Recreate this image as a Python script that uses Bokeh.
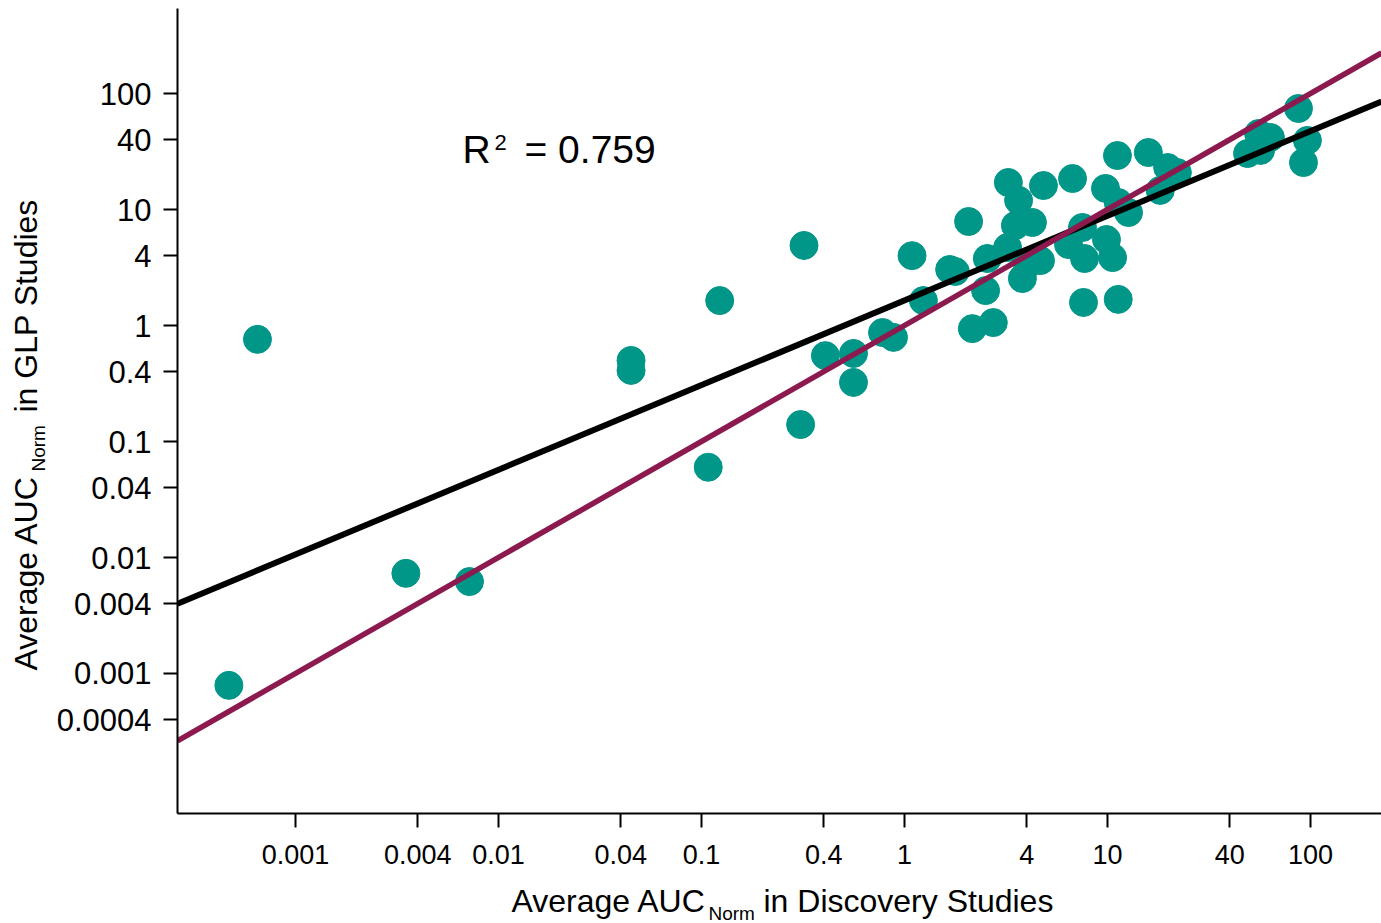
import math
from bokeh.plotting import figure
from bokeh.layouts import row, column
from bokeh.models import FixedTicker, Label, Range1d
from bokeh.embed import file_html
from bokeh.resources import INLINE

# ---- data ----
discovery = [0.00047, 0.00065, 0.0035, 0.0072, 0.045, 0.045, 0.108, 0.123, 0.308, 0.32,
             0.408, 0.561, 0.561, 0.78, 0.883, 1.09, 1.24, 1.67, 1.78, 2.07,
             2.16, 2.51, 2.56, 2.74, 3.22, 3.25, 3.52, 3.65, 3.81, 4.04,
             4.27, 4.68, 4.84, 6.43, 6.73, 7.53, 7.62, 7.71, 9.78, 9.89,
             10.6, 11.2, 11.3, 11.3, 12.7, 15.9, 18.2, 19.8, 22.1, 49.0,
             55.5, 56.8, 63.5, 87.3, 96.6, 92.4]
glp = [0.00079, 0.76, 0.0073, 0.0062, 0.50, 0.41, 0.060, 1.64, 0.140, 4.90,
       0.55, 0.574, 0.323, 0.87, 0.79, 4.0, 1.64, 3.04, 2.92, 7.88,
       0.94, 2.0, 3.78, 1.06, 4.70, 17.1, 7.28, 12.0, 2.54, 3.36,
       7.73, 3.63, 16.1, 4.99, 18.5, 7.0, 1.58, 3.78, 15.2, 5.51,
       3.85, 29.2, 1.68, 11.5, 9.42, 31.0, 14.6, 23.0, 20.8, 30.4,
       45.2, 32.3, 41.8, 74.3, 39.4, 25.4]

x_ticks = [0.001, 0.004, 0.01, 0.04, 0.1, 0.4, 1, 4, 10, 40, 100]
x_tick_labels = ["0.001", "0.004", "0.01", "0.04", "0.1", "0.4", "1", "4", "10", "40", "100"]
y_ticks = [100, 40, 10, 4, 1, 0.4, 0.1, 0.04, 0.01, 0.004, 0.001, 0.0004]
y_tick_labels = ["100", "40", "10", "4", "1", "0.4", "0.1", "0.04", "0.01", "0.004", "0.001", "0.0004"]

fit_slope = 0.730      # log-log regression line
fit_intercept = 0.216
r_squared_text = "= 0.759"

x_title = ["Average AUC", "Norm", "in Discovery Studies"]
y_title = ["Average AUC", "Norm", "in GLP Studies"]

# ---- layout ----
FONT = "Liberation Sans"
TEAL = "#009688"
PURPLE = "#8C1A4E"
BASE_SHIFT = 0.37     # label anchor sits this many em above the drawn baseline

PAGE_W, PAGE_H = 1381, 923
YT_W = 50            # strip for the y title
XT_H = 48            # strip for the x title
MAIN_W, MAIN_H = PAGE_W - YT_W, PAGE_H - XT_H
FRAME_L, FRAME_T, FRAME_B = 177, 8, 813   # page pixels

LX0, LX1 = -3.581, 2.350
LY0, LY1 = -4.207, 2.733

p = figure(x_axis_type="log", y_axis_type="log",
           x_range=Range1d(10 ** LX0, 10 ** LX1), y_range=Range1d(10 ** LY0, 10 ** LY1),
           width=MAIN_W, height=MAIN_H, output_backend="svg", toolbar_location=None,
           min_border_left=FRAME_L - YT_W, min_border_right=0, min_border_top=FRAME_T,
           min_border_bottom=MAIN_H - FRAME_B)
p.frame_align = False
p.outline_line_color = None
p.grid.visible = False
p.background_fill_color = "white"
p.border_fill_color = "white"

for ax, ticks, labels, fs, so in ((p.xaxis, x_ticks, x_tick_labels, "27px", 17),
                                  (p.yaxis, y_ticks, y_tick_labels, "31px", 12)):
    ax.ticker = FixedTicker(ticks=ticks, minor_ticks=[])
    ax.major_label_overrides = dict(zip(ticks, labels))
    ax.axis_line_width = 2
    ax.axis_line_color = "black"
    ax.major_tick_line_width = 2
    ax.major_tick_line_color = "black"
    ax.major_tick_out = 14
    ax.major_tick_in = 0
    ax.minor_tick_out = 0
    ax.minor_tick_in = 0
    ax.major_label_text_font = FONT
    ax.major_label_text_font_size = fs
    ax.major_label_text_color = "black"
    ax.major_label_standoff = so

# points
p.scatter(discovery, glp, size=28, marker="circle", fill_color=TEAL, line_color=TEAL)

# regression line and identity line across the x range
xr = [10 ** LX0, 10 ** LX1]
p.line(xr, [10 ** (fit_slope * math.log10(v) + fit_intercept) for v in xr],
       line_color="black", line_width=6)
p.line(xr, xr, line_color=PURPLE, line_width=5.5)


def dx(px):
    return 10 ** (LX0 + (px - FRAME_L) / 203.0)


def dy(py):
    return 10 ** (LY1 - (py - FRAME_T) / 116.0)


def lab(fig, x, y, t, size, angle=0.0):
    fig.add_layout(Label(x=x, y=y, text=t, text_font=FONT, text_font_size="%gpx" % size,
                         text_color="black", text_align="left",
                         text_baseline="alphabetic", angle=angle))


# R^2 annotation (baselines 163 / 150)
lab(p, dx(462), dy(163 - BASE_SHIFT * 39), "R", 39)
lab(p, dx(494), dy(150 - BASE_SHIFT * 22), "2", 22)
lab(p, dx(524), dy(163 - BASE_SHIFT * 39), r_squared_text, 39)


def strip(w, h, x0, y0):
    f = figure(width=w, height=h, x_range=Range1d(x0, x0 + w), y_range=Range1d(y0 + h, y0),
               output_backend="svg", toolbar_location=None,
               x_axis_location=None, y_axis_location=None,
               min_border=0, min_border_left=0, min_border_right=0,
               min_border_top=0, min_border_bottom=0)
    f.frame_align = False
    f.outline_line_color = None
    f.grid.visible = False
    f.background_fill_color = "white"
    f.border_fill_color = "white"
    return f


# y title strip (data units = page pixels), baselines at x = 37 / 45
yt = strip(YT_W, PAGE_H, 0, 0)
a = math.pi / 2
lab(yt, 37 - BASE_SHIFT * 32, 670, y_title[0], 32, a)
lab(yt, 45 - BASE_SHIFT * 19, 471, y_title[1], 19, a)
lab(yt, 37 - BASE_SHIFT * 32, 412, y_title[2], 32, a)

# x title strip, baselines at y = 912 / 920
xt = strip(MAIN_W, XT_H, YT_W, MAIN_H)
lab(xt, 511, 912 - BASE_SHIFT * 32, x_title[0], 32)
lab(xt, 708, 920 - BASE_SHIFT * 19, x_title[1], 19)
lab(xt, 763, 912 - BASE_SHIFT * 32, x_title[2], 32)

layout = row(yt, column(p, xt, spacing=0), spacing=0)
open("out.html", "w").write(file_html(layout, INLINE))
